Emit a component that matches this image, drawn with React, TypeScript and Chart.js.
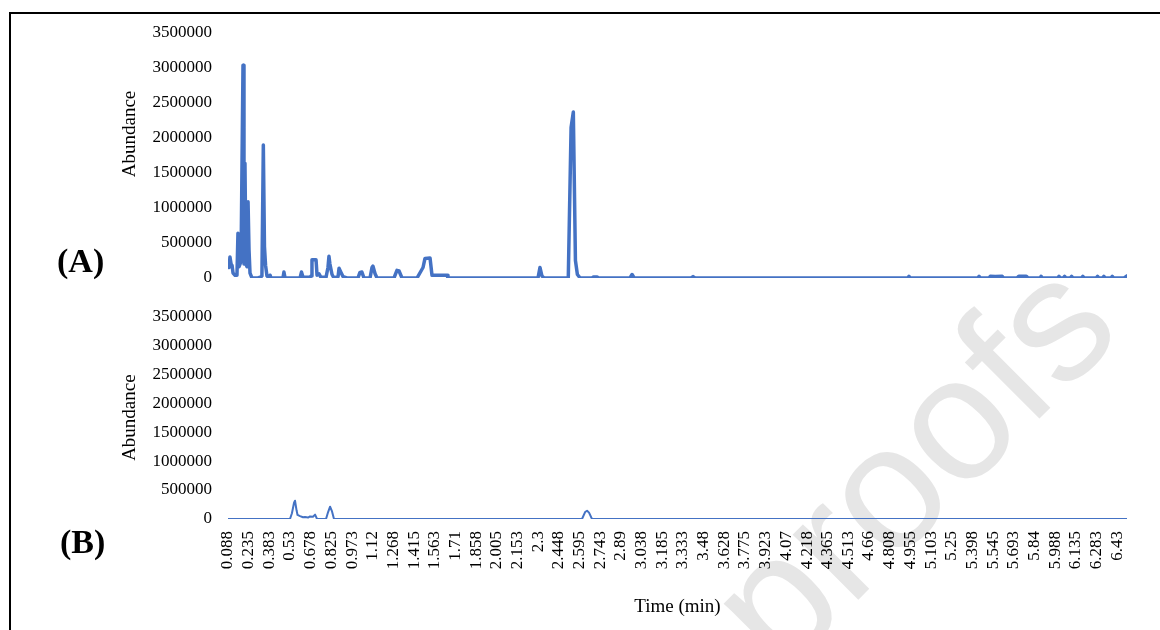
import React, { useEffect, useRef } from 'react';
import { Chart, registerables } from 'chart.js';

Chart.register(...registerables);

// x-axis tick labels (Time, min)
const xTickLabels = [
  '0.088', '0.235', '0.383', '0.53', '0.678', '0.825', '0.973', '1.12', '1.268', '1.415', '1.563',
  '1.71', '1.858', '2.005', '2.153', '2.3', '2.448', '2.595', '2.743', '2.89', '3.038', '3.185',
  '3.333', '3.48', '3.628', '3.775', '3.923', '4.07', '4.218', '4.365', '4.513', '4.66', '4.808',
  '4.955', '5.103', '5.25', '5.398', '5.545', '5.693', '5.84', '5.988', '6.135', '6.283', '6.43',
];

// Panel (A) chromatogram
const timeA = [
  0.088, 0.095, 0.102, 0.110, 0.117, 0.124, 0.138, 0.152, 0.159, 0.166, 0.174, 0.181, 0.195, 0.202,
  0.209, 0.216, 0.224, 0.231, 0.238, 0.245, 0.259, 0.302, 0.323, 0.330, 0.340, 0.348, 0.356, 0.366,
  0.380, 0.388, 0.395, 0.480, 0.487, 0.495, 0.602, 0.612, 0.623, 0.673, 0.680, 0.687, 0.716, 0.723,
  0.737, 0.751, 0.787, 0.801, 0.808, 0.815, 0.830, 0.844, 0.873, 0.880, 0.894, 0.908, 0.937, 1.015,
  1.029, 1.043, 1.058, 1.101, 1.115, 1.122, 1.137, 1.151, 1.272, 1.293, 1.308, 1.329, 1.436, 1.479,
  1.493, 1.529, 1.543, 1.650, 1.657, 2.299, 2.313, 2.327, 2.342, 2.515, 2.535, 2.551, 2.566, 2.580,
  2.600, 2.685, 2.695, 2.720, 2.730, 2.955, 2.970, 2.985, 3.390, 3.405, 3.420, 4.935, 4.945, 4.955,
  5.435, 5.445, 5.455, 5.515, 5.525, 5.560, 5.610, 5.620, 5.715, 5.728, 5.782, 5.795, 5.880, 5.887,
  5.895, 6.005, 6.015, 6.025, 6.045, 6.055, 6.065, 6.095, 6.105, 6.115, 6.175, 6.185, 6.195, 6.280,
  6.290, 6.300, 6.325, 6.335, 6.345, 6.385, 6.395, 6.405, 6.480, 6.500,
];
const abundanceA = [
  180000, 150000, 300000, 200000, 180000, 70000, 40000, 40000, 640000, 160000, 200000, 250000, 3040000, 200000,
  1640000, 200000, 160000, 1090000, 400000, 70000, 0, 0, 15000, 30000, 1900000, 450000, 180000, 30000,
  0, 40000, 0, 0, 85000, 0, 0, 85000, 10000, 10000, 30000, 260000, 260000, 40000,
  60000, 10000, 10000, 150000, 310000, 200000, 50000, 0, 20000, 140000, 80000, 20000, 0, 0,
  80000, 85000, 0, 0, 150000, 170000, 60000, 0, 0, 110000, 100000, 0, 0, 150000,
  280000, 285000, 40000, 40000, 0, 0, 150000, 30000, 0, 0, 2150000, 2370000, 250000, 50000,
  0, 0, 15000, 15000, 0, 0, 50000, 0, 0, 20000, 0, 0, 25000, 0,
  0, 25000, 0, 0, 25000, 20000, 25000, 0, 0, 25000, 25000, 0, 0, 25000,
  0, 0, 25000, 0, 0, 25000, 0, 0, 25000, 0, 0, 25000, 0, 0,
  25000, 0, 0, 25000, 0, 0, 25000, 0, 0, 30000,
];

// Panel (B) chromatogram
const timeB = [
  0.088, 0.530, 0.544, 0.559, 0.566, 0.577, 0.584, 0.602, 0.623, 0.637, 0.659, 0.673, 0.694,
  0.709, 0.723, 0.787, 0.802, 0.816, 0.830, 0.844, 2.613, 2.635, 2.649, 2.663, 2.684, 6.500,
];
const abundanceB = [
  0, 0, 100000, 280000, 315000, 150000, 70000, 50000, 30000, 35000, 25000, 45000, 40000,
  75000, 0, 0, 120000, 212000, 130000, 0, 0, 120000, 143000, 110000, 0, 0,
];

const X_MIN = 0.088;
const X_MAX = 6.5;
const Y_MAX = 3500000;
const Y_STEP = 500000;

const LINE_COLOR = '#4472C4';
const SERIF = '"Liberation Serif", "Times New Roman", serif';
const TEXT = '#000000';

const PAD_LEFT = 118.6;
const Y_AXIS_W = 228 - PAD_LEFT;

function toPoints(t: number[], v: number[]) {
  return t.map((x, i) => ({ x, y: v[i] }));
}

function buildOptions(showX: boolean, showYTitle: boolean, padTop: number, padBottom: number, xHeight: number) {
  return {
    responsive: false,
    animation: false,
    devicePixelRatio: 1,
    layout: { padding: { left: PAD_LEFT, right: 33, top: padTop, bottom: padBottom } },
    plugins: { legend: { display: false }, tooltip: { enabled: false } },
    elements: { point: { radius: 0 } },
    scales: {
      x: {
        type: 'linear',
        display: showX,
        min: X_MIN,
        max: X_MAX,
        grid: { display: false, drawTicks: false },
        border: { display: false },
        afterBuildTicks: (scale: any) => {
          scale.ticks = xTickLabels.map((l) => ({ value: parseFloat(l) }));
        },
        afterFit: (scale: any) => {
          if (showX) scale.height = xHeight;
        },
        ticks: {
          autoSkip: false,
          minRotation: 90,
          maxRotation: 90,
          padding: 12,
          color: TEXT,
          font: { family: SERIF, size: 17 },
          callback: (_v: any, i: number) => xTickLabels[i],
        },
        title: {
          display: showX,
          text: 'Time (min)',
          color: TEXT,
          padding: 0,
          font: { family: SERIF, size: 19 },
        },
      },
      y: {
        min: 0,
        max: Y_MAX,
        grid: { display: false, drawTicks: false },
        border: { display: false },
        afterFit: (scale: any) => {
          scale.width = Y_AXIS_W;
        },
        ticks: {
          stepSize: Y_STEP,
          padding: 16,
          color: TEXT,
          font: { family: SERIF, size: 17 },
          callback: (v: any) => String(v),
        },
        title: {
          display: showYTitle,
          text: 'Abundance',
          color: TEXT,
          padding: 0,
          font: { family: SERIF, size: 19 },
        },
      },
    },
  } as any;
}

const abundanceTitleA = {
  id: 'abundanceTitleA',
  afterDraw(chart: any) {
    const ctx = chart.ctx;
    ctx.save();
    ctx.translate(130, 134);
    ctx.rotate(-Math.PI / 2);
    ctx.font = `19px ${SERIF}`;
    ctx.fillStyle = TEXT;
    ctx.textAlign = 'center';
    ctx.textBaseline = 'middle';
    ctx.fillText('Abundance', 0, 0);
    ctx.restore();
  },
};

export default function App() {
  const refA = useRef<HTMLCanvasElement>(null);
  const refB = useRef<HTMLCanvasElement>(null);

  useEffect(() => {
    const chartA = new Chart(refA.current as HTMLCanvasElement, {
      type: 'line',
      data: {
        datasets: [
          {
            data: toPoints(timeA, abundanceA),
            borderColor: LINE_COLOR,
            borderWidth: 3.5,
            borderJoinStyle: 'round',
            borderCapStyle: 'round',
            tension: 0,
            fill: false,
            pointRadius: 0,
          },
        ],
      },
      options: buildOptions(false, false, 33, 42, 0),
      plugins: [abundanceTitleA],
    } as any);

    const chartB = new Chart(refB.current as HTMLCanvasElement, {
      type: 'line',
      data: {
        datasets: [
          {
            data: toPoints(timeB, abundanceB),
            borderColor: LINE_COLOR,
            borderWidth: 2,
            borderJoinStyle: 'round',
            borderCapStyle: 'round',
            tension: 0,
            fill: false,
            pointRadius: 0,
          },
        ],
      },
      options: buildOptions(true, true, 26, 11.6, 99.4),
    } as any);

    return () => {
      chartA.destroy();
      chartB.destroy();
    };
  }, []);

  return (
    <div style={{ position: 'fixed', left: 0, top: 0, width: 1160, height: 630, overflow: 'hidden', background: '#fff' }}>
      <div
        style={{
          position: 'absolute',
          left: 667,
          top: 375,
          width: 486,
          height: 175,
          lineHeight: '175px',
          fontSize: 175,
          fontFamily: '"Liberation Sans", Arial, sans-serif',
          color: '#e6e6e6',
          textAlign: 'center',
          whiteSpace: 'nowrap',
          transform: 'rotate(-45deg)',
          transformOrigin: '50% 50%',
        }}
      >
        proofs
      </div>
      <div
        style={{
          position: 'absolute',
          left: 9,
          top: 12,
          width: 1200,
          height: 700,
          borderLeft: '2px solid #000',
          borderTop: '2px solid #000',
        }}
      />
      <canvas ref={refA} width={1160} height={320} style={{ position: 'absolute', left: 0, top: 0, width: 1160, height: 320 }} />
      <canvas ref={refB} width={1160} height={340} style={{ position: 'absolute', left: 0, top: 290, width: 1160, height: 340 }} />
      <div style={{ position: 'absolute', left: 57, top: 243.5, fontFamily: SERIF, fontWeight: 'bold', fontSize: 34, lineHeight: '34px', color: '#000' }}>
        (A)
      </div>
      <div style={{ position: 'absolute', left: 60, top: 524.5, fontFamily: SERIF, fontWeight: 'bold', fontSize: 34, lineHeight: '34px', color: '#000' }}>
        (B)
      </div>
    </div>
  );
}
